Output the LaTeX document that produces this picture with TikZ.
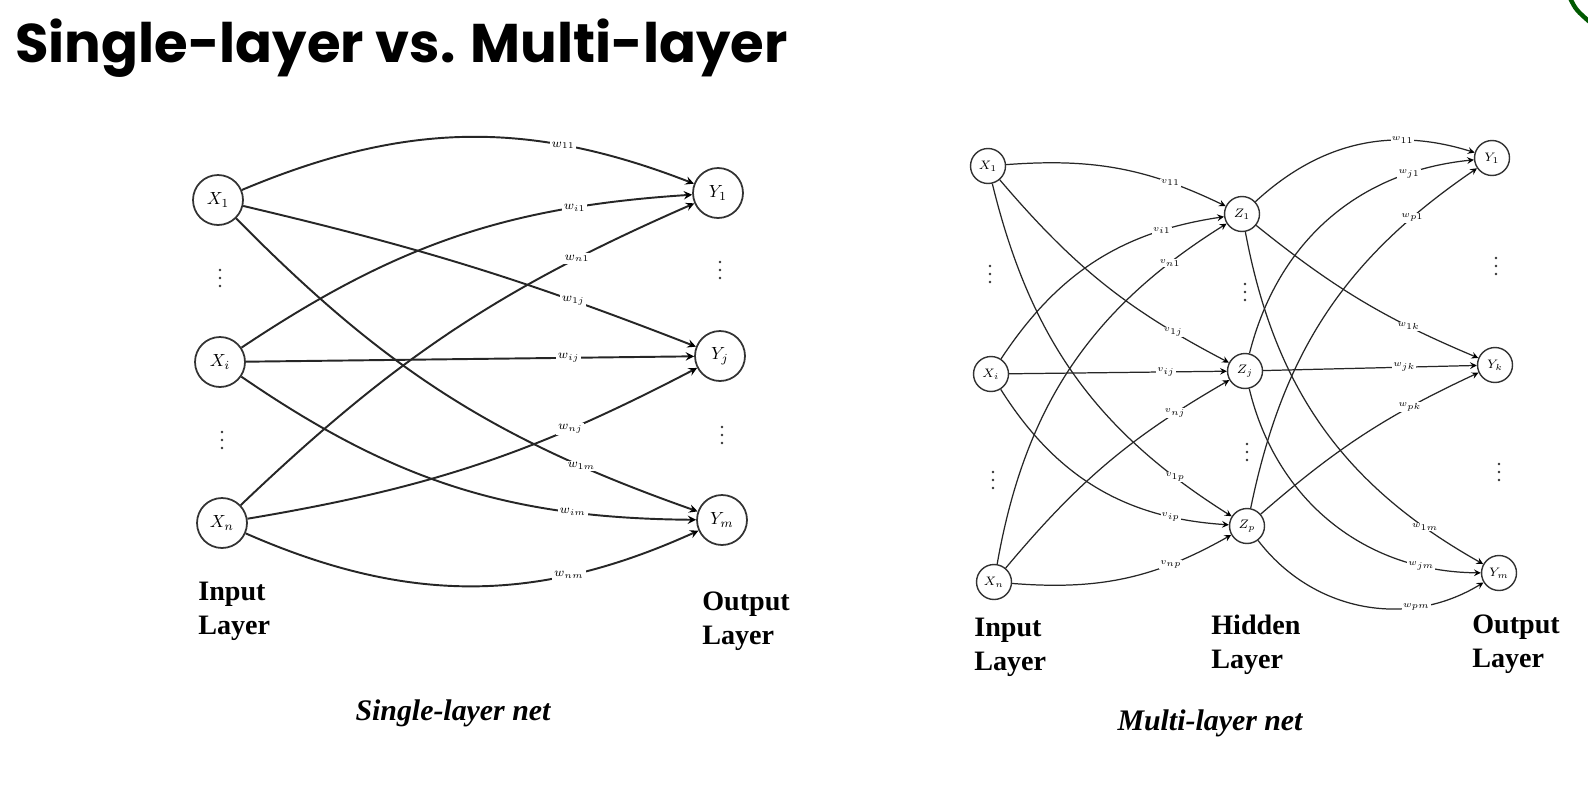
\documentclass[tikz,border=0pt]{standalone}
\usepackage{fontspec}
\setmainfont{Liberation Serif}
\newfontfamily\poppins{Poppins}
\usepackage{tikz}
\usetikzlibrary{arrows}

\begin{document}
\begin{tikzpicture}[x=0.02cm,y=-0.02cm]
		\tikzstyle{neuron} = [draw=black!80, line width=1pt, shape=circle, minimum size=1cm, inner sep=0, font=\fontsize{10}{10}\selectfont]
		\tikzstyle{sneuron} = [draw=black!80, line width=0.8pt, shape=circle, minimum size=0.7cm, inner sep=0, font=\fontsize{7}{7}\selectfont]
		\tikzstyle{arr} = [-stealth, line width=1.1pt, draw=black!85]
		\tikzstyle{sarr} = [-stealth, line width=0.7pt, draw=black!85]
		\tikzstyle{wlbl} = [fill=white, inner sep=1pt, font=\fontsize{7}{7}\selectfont, pos=0.72]
		\tikzstyle{vlbl} = [fill=white, inner sep=0.5pt, font=\fontsize{5}{5}\selectfont, pos=0.72]
		\tikzstyle{layer} = [align=left, anchor=north west, inner sep=0, font=\fontsize{16}{19}\selectfont\bfseries]
		\tikzstyle{caption} = [font=\fontsize{17}{17}\selectfont\bfseries\itshape]
		\useasboundingbox [fill=white] (0,0) rectangle (1588,801);
		% title
		\node [anchor=base west, inner sep=0, font=\poppins\bfseries\fontsize{31}{31}\selectfont] (title) at (15,62) {Single-layer vs. Multi-layer};
		\draw [green!35!black, line width=2.5pt] (1570,-2) .. controls (1576,10) .. (1592,24);
		% vertical dots between the units
		\foreach \x/\y in {220/278, 222/440, 720/270, 722/435, 990/274, 993/480, 1245/292, 1247/452, 1496/266, 1499/472}
			\fill [black!80] (\x,\y-8) circle (1.4) (\x,\y) circle (1.4) (\x,\y+8) circle (1.4);
		% single-layer net
		\begin{scope}
		\node [neuron] (x1) at (218,200) {$X_1$};
		\node [neuron] (xi) at (220,362) {$X_i$};
		\node [neuron] (xn) at (222,523) {$X_n$};
		\node [neuron] (y1) at (718,193) {$Y_1$};
		\node [neuron] (yj) at (720,356) {$Y_j$};
		\node [neuron] (ym) at (722,520) {$Y_m$};
		\draw [arr] (x1) edge[bend left=22] node[wlbl] {$w_{11}$} (y1);
		\draw [arr] (xi) edge[bend left=15] node[wlbl, pos=0.77] {$w_{i1}$} (y1);
		\draw [arr] (xn) edge[bend left=10] node[wlbl, pos=0.78] {$w_{n1}$} (y1);
		\draw [arr] (x1) edge[bend left=4] node[wlbl, pos=0.74] {$w_{1j}$} (yj);
		\draw [arr] (xi) edge node[wlbl] {$w_{ij}$} (yj);
		\draw [arr] (xn) edge[bend right=9] node[wlbl] {$w_{nj}$} (yj);
		\draw [arr] (x1) edge[bend right=13] node[wlbl, pos=0.79] {$w_{1m}$} (ym);
		\draw [arr] (xi) edge[bend right=17] node[wlbl, pos=0.76] {$w_{im}$} (ym);
		\draw [arr] (xn) edge[bend right=24] node[wlbl] {$w_{nm}$} (ym);
		\node [layer] (in1) at (198,582) {Input\\Layer};
		\node [layer] (out1) at (702,592) {Output\\Layer};
		\node [caption] (cap1) at (453,713) {Single-layer net};
		\end{scope}
		% multi-layer net
		\begin{scope}
		\node [sneuron] (u1) at (988,166) {$X_1$};
		\node [sneuron] (ui) at (991,374) {$X_i$};
		\node [sneuron] (un) at (994,582) {$X_n$};
		\node [sneuron] (z1) at (1242,214) {$Z_1$};
		\node [sneuron] (zj) at (1245,371) {$Z_j$};
		\node [sneuron] (zp) at (1247,526) {$Z_p$};
		\node [sneuron] (v1) at (1492,158) {$Y_1$};
		\node [sneuron] (vk) at (1495,365) {$Y_k$};
		\node [sneuron] (vm) at (1499,573) {$Y_m$};
		\draw [sarr] (u1) edge[bend left=15] node[vlbl, pos=0.75] {$v_{11}$} (z1);
		\draw [sarr] (ui) edge[bend left=24] node[vlbl, pos=0.78] {$v_{i1}$} (z1);
		\draw [sarr] (un) edge[bend left=24] node[vlbl, pos=0.85] {$v_{n1}$} (z1);
		\draw [sarr] (u1) edge[bend right=11] node[vlbl, pos=0.8] {$v_{1j}$} (zj);
		\draw [sarr] (ui) edge node[vlbl] {$v_{ij}$} (zj);
		\draw [sarr] (un) edge[bend left=10] node[vlbl, pos=0.8] {$v_{nj}$} (zj);
		\draw [sarr] (u1) edge[bend right=22] node[vlbl, pos=0.85] {$v_{1p}$} (zp);
		\draw [sarr] (ui) edge[bend right=27] node[vlbl, pos=0.8] {$v_{ip}$} (zp);
		\draw [sarr] (un) edge[bend right=17] node[vlbl] {$v_{np}$} (zp);
		\draw [sarr] (z1) edge[bend left=30] node[vlbl, pos=0.7] {$w_{11}$} (v1);
		\draw [sarr] (zj) edge[bend left=35] node[vlbl, pos=0.8] {$w_{j1}$} (v1);
		\draw [sarr] (zp) edge[bend left=22] node[vlbl, pos=0.82] {$w_{p1}$} (v1);
		\draw [sarr] (z1) edge[bend right=8] node[vlbl] {$w_{1k}$} (vk);
		\draw [sarr] (zj) edge node[vlbl, pos=0.66] {$w_{jk}$} (vk);
		\draw [sarr] (zp) edge[bend left=8] node[vlbl] {$w_{pk}$} (vk);
		\draw [sarr] (z1) edge[bend right=25] node[vlbl, pos=0.85] {$w_{1m}$} (vm);
		\draw [sarr] (zj) edge[bend right=38] node[vlbl, pos=0.82] {$w_{jm}$} (vm);
		\draw [sarr] (zp) edge[bend right=42] node[vlbl] {$w_{pm}$} (vm);
		\node [layer] (in2) at (974,618) {Input\\Layer};
		\node [layer] (hid2) at (1211,615) {Hidden\\Layer};
		\node [layer] (out2) at (1472,615) {Output\\Layer};
		\node [caption] (cap2) at (1210,723) {Multi-layer net};
		\end{scope}
\end{tikzpicture}
\end{document}
